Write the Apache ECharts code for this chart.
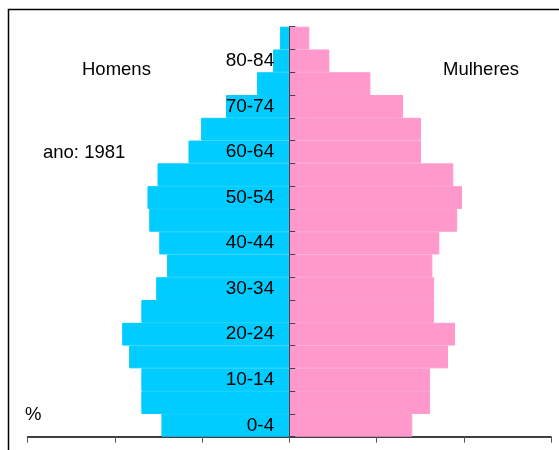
<!DOCTYPE html>
<html lang="pt">
<head>
    <meta charset="UTF-8">
    <title>Pirâmide etária 1981</title>
    <script src="https://cdn.jsdelivr.net/npm/echarts@6/dist/echarts.min.js"></script>
    <style>
        html, body { margin: 0; padding: 0; background: #fff; }
        #chart { width: 559px; height: 450px; }
    </style>
</head>
<body>
    <div id="chart"></div>
    <script>
        // grupos etários (de baixo para cima)
        let ages = ['0-4', '5-9', '10-14', '15-19', '20-24', '25-29', '30-34', '35-39', '40-44',
            '45-49', '50-54', '55-59', '60-64', '65-69', '70-74', '75-79', '80-84', '85+'];
        // % homens
        let homens = [2.93, 3.39, 3.39, 3.67, 3.83, 3.39, 3.05, 2.80, 2.98,
            3.21, 3.25, 3.02, 2.31, 2.02, 1.45, 0.74, 0.37, 0.21];
        // % mulheres
        let mulheres = [2.82, 3.23, 3.23, 3.64, 3.80, 3.32, 3.32, 3.28, 3.44,
            3.85, 3.96, 3.76, 3.02, 3.02, 2.61, 1.86, 0.92, 0.46];

        let font = 'Liberation Sans, Arial, sans-serif';
        let gridLeft = 27.5, gridRight = 8;
        // eixo vertical no zero (meio do eixo x simétrico)
        let midOffset = -(559 - gridLeft - gridRight) / 2;

        let myChart = echarts.init(document.getElementById('chart'));
        let option = {
            animation: false,
            grid: {
                left: gridLeft,
                right: gridRight,
                top: 26.7,
                bottom: 13.3,
                containLabel: false,
                outerBoundsMode: 'none'
            },
            xAxis: {
                type: 'value',
                min: -6,
                max: 6,
                interval: 2,
                axisLabel: { show: false },
                splitLine: { show: false },
                axisLine: { show: true, lineStyle: { color: '#000', width: 1.5 } },
                axisTick: { show: true, length: 6, lineStyle: { color: '#555' } }
            },
            yAxis: {
                type: 'category',
                data: ages,
                z: 10,
                offset: midOffset,
                axisLine: { show: true, onZero: false, lineStyle: { color: '#444' } },
                axisTick: { show: true, inside: true, length: 6, interval: 0, lineStyle: { color: '#444' } },
                axisLabel: {
                    interval: 1,
                    margin: 15,
                    color: '#000',
                    fontSize: 19,
                    fontFamily: font
                },
                splitLine: { show: false }
            },
            series: [{
                    name: 'Homens',
                    type: 'bar',
                    stack: 'pop',
                    barCategoryGap: 0,
                    itemStyle: { color: '#00ccff', borderColor: '#00ccff', borderWidth: 1 },
                    data: homens.map(function (v) { return -v; })
                },
                {
                    name: 'Mulheres',
                    type: 'bar',
                    stack: 'pop',
                    barCategoryGap: 0,
                    itemStyle: { color: '#ff99cc', borderColor: '#ff99cc', borderWidth: 1 },
                    data: mulheres
                }
            ],
            graphic: [{
                    type: 'rect',
                    shape: { x: 8.5, y: 9.5, width: 700, height: 600 },
                    style: { fill: 'none', stroke: '#000', lineWidth: 1.5 },
                    silent: true
                },
                {
                    type: 'text', left: 82, top: 60,
                    style: { text: 'Homens', font: '18.5px ' + font, fill: '#000' }
                },
                {
                    type: 'text', left: 443, top: 60,
                    style: { text: 'Mulheres', font: '18.5px ' + font, fill: '#000' }
                },
                {
                    type: 'text', left: 43, top: 143,
                    style: { text: 'ano: 1981', font: '18.5px ' + font, fill: '#000' }
                },
                {
                    type: 'text', left: 25, top: 405,
                    style: { text: '%', font: '18.5px ' + font, fill: '#000' }
                }
            ]
        };
        myChart.setOption(option);
    </script>
</body>
</html>
